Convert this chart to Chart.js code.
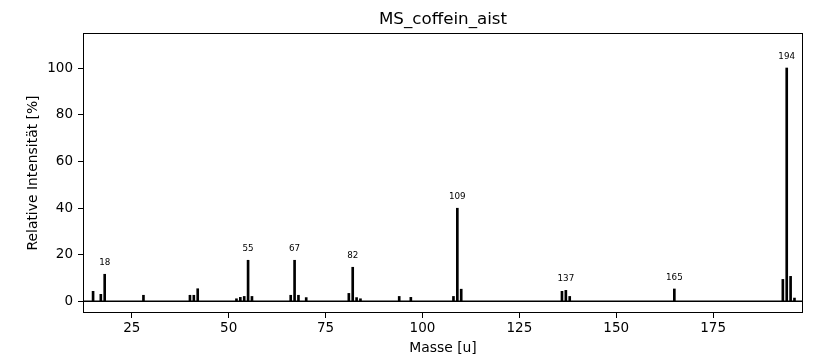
<!DOCTYPE html>
<html>
<head>
<meta charset="utf-8">
<script src="https://cdn.jsdelivr.net/npm/chart.js@4.4.1/dist/chart.umd.min.js"></script>
<style>
    html, body { margin: 0; padding: 0; background: #fff; }
    #wrap { width: 814px; height: 361px; }
</style>
</head>
<body>
<div id="wrap"><canvas id="ms-chart" width="814" height="361"></canvas></div>
<script>
// mass spectrum values
const masses = [15, 17, 18, 28, 40, 41, 42, 52, 53, 54, 55, 56, 66, 67, 68, 70, 81, 82, 83, 84,
                94, 97, 108, 109, 110, 136, 137, 138, 165, 193, 194, 195, 196];
const intensities = [4.3, 3.0, 11.6, 2.6, 2.6, 2.6, 5.4, 1.1, 1.7, 2.1, 17.6, 2.1, 2.6, 17.6, 2.6, 1.6, 3.4, 14.6, 1.6, 1.1,
                     2.1, 1.7, 2.1, 39.9, 5.2, 4.3, 4.7, 2.1, 5.3, 9.4, 100, 10.7, 1.4];
const peakLabels = [18, 55, 67, 82, 109, 137, 165, 194];
const xTicks = [25, 50, 75, 100, 125, 150, 175];
const yTicks = [0, 20, 40, 60, 80, 100];

const FONT = "'DejaVu Sans', sans-serif";

const extras = {
    id: 'extras',
    afterDatasetsDraw(chart) {
        const ctx = chart.ctx;
        const area = chart.chartArea;
        const x = chart.scales.x;
        const y = chart.scales.y;
        ctx.save();
        // zero baseline
        ctx.strokeStyle = '#000';
        ctx.lineWidth = 1.5;
        ctx.beginPath();
        ctx.moveTo(area.left, y.getPixelForValue(0));
        ctx.lineTo(area.right, y.getPixelForValue(0));
        ctx.stroke();
        // peak labels
        ctx.fillStyle = '#000';
        ctx.font = '8.75px ' + FONT;
        ctx.textAlign = 'center';
        ctx.textBaseline = 'bottom';
        peakLabels.forEach(m => {
            const i = masses.indexOf(m);
            ctx.fillText(String(m), x.getPixelForValue(m), y.getPixelForValue(intensities[i] + 3));
        });
        // frame
        ctx.lineWidth = 1;
        ctx.strokeRect(area.left + 0.5, area.top + 0.5, area.right - area.left - 1, area.bottom - area.top - 1);
        // title
        ctx.font = '16.7px ' + FONT;
        ctx.textBaseline = 'middle';
        ctx.fillText('MS_coffein_aist', (area.left + area.right) / 2, 20);
        ctx.restore();
    }
};

new Chart(document.getElementById('ms-chart'), {
    type: 'bar',
    data: {
        datasets: [{
            data: masses.map((m, i) => ({ x: m, y: intensities[i] })),
            backgroundColor: '#000',
            borderWidth: 0,
            barThickness: 2
        }]
    },
    options: {
        responsive: false,
        animation: false,
        devicePixelRatio: 1,
        layout: { padding: { top: 33, right: 11, left: 0, bottom: 0 } },
        plugins: {
            legend: { display: false },
            tooltip: { enabled: false }
        },
        scales: {
            x: {
                type: 'linear',
                offset: false,
                min: 12.4,
                max: 198.2,
                afterBuildTicks: s => { s.ticks = xTicks.map(v => ({ value: v })); },
                afterFit: s => { s.height = 48; },
                grid: { offset: false, drawOnChartArea: false, tickLength: 5, color: '#000', tickWidth: 1 },
                border: { display: false },
                ticks: { color: '#000', font: { family: FONT, size: 13.5 }, padding: 2, maxRotation: 0 },
                title: { display: true, text: 'Masse [u]', color: '#000', font: { family: FONT, size: 13.9 }, padding: { top: 0 } }
            },
            y: {
                min: -5,
                max: 115,
                afterBuildTicks: s => { s.ticks = yTicks.map(v => ({ value: v })); },
                afterFit: s => { s.width = 83; },
                grid: { drawOnChartArea: false, tickLength: 5, color: '#000', tickWidth: 1 },
                border: { display: false },
                ticks: { color: '#000', font: { family: FONT, size: 13.5 }, padding: 5 },
                title: { display: true, text: 'Relative Intensität [%]', color: '#000', font: { family: FONT, size: 13.9 }, padding: { top: 25, bottom: 0 } }
            }
        }
    },
    plugins: [extras]
});
</script>
</body>
</html>
